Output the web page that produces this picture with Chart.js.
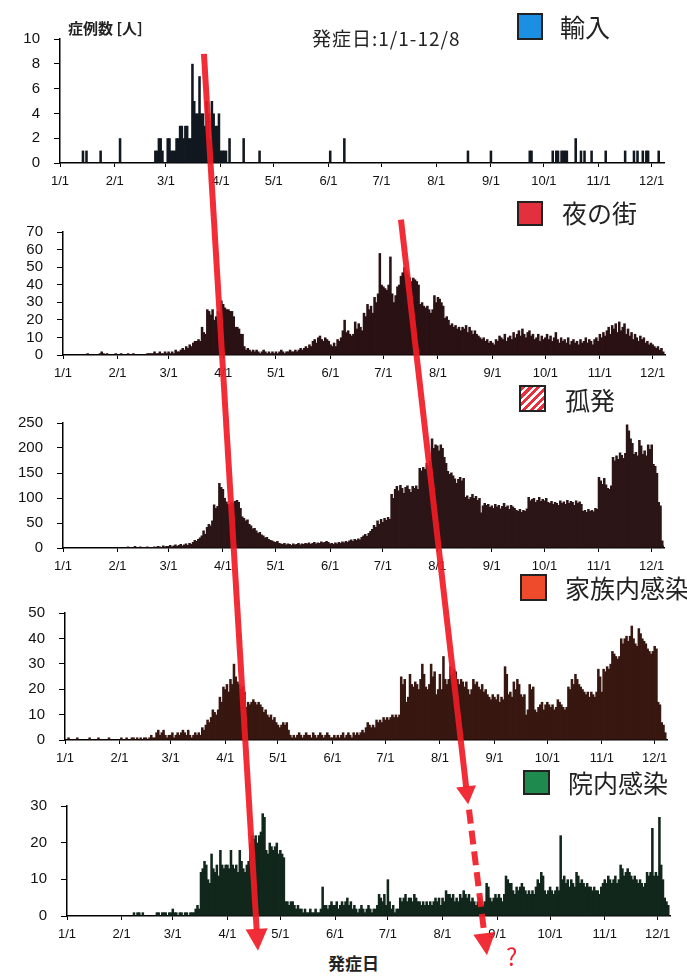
<!DOCTYPE html>
<html><head><meta charset="utf-8">
<script src="https://cdn.jsdelivr.net/npm/chart.js@4.4.1/dist/chart.umd.min.js"></script>
<style>
html,body{margin:0;padding:0;background:#fff;}
body{width:687px;height:978px;position:relative;overflow:hidden;font-family:"Noto Sans CJK JP","Noto Sans",sans-serif;}
.t{position:absolute;white-space:nowrap;line-height:1;color:#222;z-index:5;}
.sq{position:absolute;box-sizing:border-box;border:2px solid #222;z-index:5;}
#overlay{position:absolute;left:0;top:0;z-index:10;pointer-events:none;}
</style></head><body>

<div class="t" style="left:68px;top:20px;font-size:15px;font-weight:bold;">症例数 [人]</div>
<div class="t" style="left:312px;top:28px;font-size:19px;letter-spacing:1px;">発症日:1/1-12/8</div>

<div class="sq" style="left:517px;top:13px;width:26px;height:27px;background:#1b8fe2;"></div>
<div class="t" style="left:560px;top:14px;font-size:25px;">輸入</div>

<div class="sq" style="left:517px;top:201px;width:26px;height:25px;background:#e3303e;"></div>
<div class="t" style="left:562px;top:200px;font-size:25px;">夜の街</div>

<div class="sq" style="left:519px;top:385px;width:27px;height:27px;background:repeating-linear-gradient(135deg,#e8303a 0 3px,#fff 3px 5.5px);"></div>
<div class="t" style="left:565px;top:387px;font-size:25px;">孤発</div>

<div class="sq" style="left:520px;top:574px;width:27px;height:27px;background:#ee4a2c;"></div>
<div class="t" style="left:565px;top:575px;font-size:25px;">家族内感染</div>

<div class="sq" style="left:523px;top:770px;width:27px;height:25px;background:#1f8a4e;"></div>
<div class="t" style="left:568px;top:770px;font-size:25px;">院内感染</div>

<div class="t" style="left:328px;top:954px;font-size:17px;font-weight:bold;">発症日</div>
<div class="t" style="left:506px;top:944px;font-size:24px;color:#f0202c;">?</div>

<canvas id="overlay" width="687" height="978"></canvas>

<script>
// ---- categories: one per day, 1/1 .. 12/8 ----
const monthLengths = [31,29,31,30,31,30,31,31,30,31,30,8];
const dayLabels = [];
monthLengths.forEach((n, m) => { for (let d = 1; d <= n; d++) dayLabels.push((m + 1) + '/' + d); });

// ---- daily case counts by onset date ----
const importCases = [
 0,0,0,0,0,0,0,0,0,0, 0,0,0,1,0,1,0,0,0,0, 0,0,0,1,0,0,0,0,0,0, 0,
 0,0,0,2,0,0,0,0,0,0, 0,0,0,0,0,0,0,0,0,0, 0,0,0,1,1,2,2,1,0,
 0,2,2,1,1,1,2,2,3,3, 2,3,3,2,2,8,5,4,4,7, 4,4,3,5,4,2,5,4,3,3, 4,
 1,1,1,1,0,2,0,0,0,0, 0,0,0,2,0,0,0,0,0,0, 0,0,1,0,0,0,0,0,0,0,
 0,0,0,0,0,0,0,0,0,0, 0,0,0,0,0,0,0,0,0,0, 0,0,0,0,0,0,0,0,0,0, 0,
 0,1,0,0,0,0,0,0,0,2, 0,0,0,0,0,0,0,0,0,0, 0,0,0,0,0,0,0,0,0,0,
 0,0,0,0,0,0,0,0,0,0, 0,0,0,0,0,0,0,0,0,0, 0,0,0,0,0,0,0,0,0,0, 0,
 0,0,0,0,0,0,0,0,0,0, 0,0,0,0,0,0,0,0,1,0, 0,0,0,0,0,0,0,0,0,0, 0,
 1,0,0,0,0,0,0,0,0,0, 0,0,0,0,0,0,0,0,0,0, 0,0,1,1,0,0,0,0,0,0,
 0,0,0,0,0,1,0,1,1,0, 1,1,1,1,0,0,0,0,2,0, 0,1,0,1,0,0,0,1,0,0, 0,
 0,0,0,0,1,0,0,0,0,0, 0,0,0,0,0,1,0,0,0,0, 1,0,1,0,0,1,0,1,1,0,
 0,0,0,0,1,0,0,0
];
const nightlifeCases = [
 0,0,0,0,0,0,0,0,0,0, 0,0,0,0,1,0,0,0,0,0, 0,1,2,1,0,1,0,0,0,0, 1,
 0,0,1,0,0,0,1,0,0,1, 0,0,0,0,0,0,0,1,1,1, 1,2,1,1,2,1,1,2,1,
 2,1,2,1,3,2,2,3,4,3, 5,4,6,5,7,8,8,9,8,16, 13,12,26,25,23,26,20,22,25,24, 31,
 29,27,26,26,25,25,22,16,16,15, 12,12,5,3,4,3,2,3,2,3, 2,1,2,3,2,1,2,1,2,1,
 2,1,2,3,2,1,2,2,3,2, 2,3,2,3,4,3,4,5,4,6, 5,8,9,7,10,11,9,8,10,9, 8,
 6,5,7,5,9,8,10,14,20,13, 14,12,11,12,19,15,18,16,14,24, 22,29,26,28,24,33,30,35,58,40,
 39,38,37,40,56,35,30,34,39,40, 45,47,50,48,46,44,42,44,43,42, 40,29,30,28,27,28,26,24,26,34, 30,
 33,32,30,28,21,22,20,17,18,16, 17,15,16,14,16,15,17,13,16,14, 12,14,12,11,10,9,10,8,9,7, 8,
 7,6,9,8,11,10,9,12,8,10, 11,9,13,10,12,14,11,15,12,10, 13,14,11,12,9,10,12,8,11,9,
 10,12,9,11,8,10,13,9,7,10, 8,9,7,10,6,8,9,7,8,6, 9,7,8,10,7,9,8,6,9,10, 8,
 12,10,13,11,14,16,12,17,15,18, 13,19,14,16,18,12,15,11,13,9, 12,10,8,11,9,10,7,8,6,7,
 6,5,4,5,3,4,2,0
];
const sporadicCases = [
 0,0,1,0,0,0,0,0,0,0, 0,0,0,0,1,0,0,0,0,0, 0,0,1,0,0,0,0,1,0,0, 1,
 1,2,1,0,1,2,3,1,2,1, 4,2,1,3,2,1,2,3,2,1, 2,3,2,4,3,2,5,3,4,
 4,6,3,5,7,4,6,8,5,7, 9,6,10,8,12,16,14,18,21,25, 35,28,42,48,45,55,87,80,84,130, 122,
 118,100,93,88,86,92,90,94,96,92, 80,63,60,55,57,48,45,39,40,35, 30,32,27,25,21,22,18,16,15,13,
 12,14,10,9,8,10,7,9,8,6, 9,7,8,10,7,9,8,10,9,11, 8,10,12,9,11,10,13,11,12,14, 12,
 9,10,8,11,9,12,10,13,11,14, 12,15,17,14,18,16,19,17,22,25, 28,24,30,34,38,46,42,55,48,58,
 52,60,56,62,58,108,100,118,124,115, 126,120,110,122,125,118,112,124,120,125, 118,160,155,162,158,170,165,175,219,200, 207,
 205,195,207,200,182,170,154,148,151,145, 139,130,138,142,135,140,102,105,98,102, 108,100,104,96,100,71,85,90,86,88, 82,
 85,80,88,83,86,79,84,90,82,85, 78,86,83,80,76,74,78,72,76,74, 79,102,95,98,100,92,96,102,94,98,
 95,100,92,90,94,88,92,90,86,95, 90,93,88,96,90,94,92,86,95,90, 93,88,74,76,72,78,74,76,73,80, 78,
 142,135,128,140,127,120,118,125,182,175, 185,178,191,186,180,190,247,235,219,210, 188,192,185,216,205,188,195,185,207,198,
 207,168,164,150,92,85,15,5
];
const householdCases = [
 0,0,1,0,0,0,0,1,0,0, 0,0,0,0,1,0,0,0,0,1, 0,0,0,0,0,1,0,0,0,0, 0,
 0,1,0,0,1,0,0,1,1,0, 1,0,1,0,1,1,0,1,2,1, 1,3,4,2,3,4,2,1,2,
 2,3,1,2,3,2,3,4,3,2, 4,2,1,2,3,2,3,2,5,4, 6,8,7,9,12,11,10,12,17,15, 21,
 20,22,19,24,22,30,25,23,22,20, 21,19,13,15,14,15,16,15,14,15, 14,13,11,12,10,9,10,8,9,7,
 6,5,6,7,6,7,4,2,1,2, 1,2,3,2,1,2,3,2,2,1, 3,2,1,2,3,2,1,2,3,2, 1,
 1,2,1,2,1,2,3,1,2,3, 2,1,3,2,3,2,3,4,3,5, 7,6,5,6,5,8,7,8,7,9,
 8,9,8,9,10,9,10,9,10,25, 22,24,15,17,26,22,21,23,22,20, 24,30,26,21,20,22,30,25,27,18, 20,
 26,20,33,24,22,24,29,26,28,27, 24,22,24,23,21,23,20,18,20,24, 22,23,21,20,22,19,20,18,17,16, 18,
 17,16,18,15,17,16,29,26,18,19, 17,23,20,24,22,18,17,18,10,12, 22,20,21,12,11,13,14,15,12,14,
 15,14,13,14,12,13,16,15,14,13, 12,13,21,20,24,22,26,24,22,21, 20,19,18,19,17,19,18,17,19,28, 25,
 19,28,27,29,28,30,35,34,33,32, 33,40,38,40,41,39,41,45,40,38, 37,44,42,40,39,38,36,35,34,35,
 37,36,15,14,7,6,3,0
];
const hospitalCases = [
 0,0,0,0,0,0,0,0,0,0, 0,0,0,0,0,0,0,0,0,0, 0,0,0,0,0,0,0,0,0,0, 0,
 0,0,0,0,0,0,0,1,0,1, 1,0,1,0,0,0,0,0,0,0, 1,1,0,1,1,1,0,1,1,
 2,1,1,0,1,1,0,1,1,0, 1,1,1,2,3,2,12,13,15,14, 10,9,17,13,12,14,11,18,14,13, 14,
 14,13,18,14,13,14,12,18,15,13, 12,14,15,20,22,21,22,20,22,23, 28,27,18,17,20,19,18,19,20,17,
 18,17,16,4,4,3,4,4,3,2, 3,2,2,1,2,1,1,2,1,1, 2,1,1,2,8,3,3,2,3,4, 3,
 3,4,2,3,4,3,4,5,3,4, 2,3,2,1,2,3,2,1,2,3, 2,1,2,2,3,6,5,4,6,3,
 10,4,2,3,1,2,2,5,4,5, 6,4,5,5,4,6,5,4,4,3, 4,3,4,3,4,3,4,5,4,5, 3,
 5,4,7,6,6,5,6,4,5,4, 6,5,7,6,5,6,4,5,4,3, 4,5,4,3,4,9,8,5,4,5, 6,
 5,6,5,4,6,11,10,9,9,7, 6,8,7,8,9,8,7,6,7,6, 7,6,8,10,9,12,11,7,6,7,
 8,7,6,7,8,7,22,10,11,9, 10,8,10,9,8,12,11,9,10,9, 8,9,8,8,7,8,7,7,6,8, 9,
 10,9,11,10,9,10,11,9,10,14, 13,11,12,13,12,11,10,11,10,9, 10,9,8,9,12,11,12,24,11,12,
 11,27,14,10,5,4,3,0
];

// ---- y-axis ranges per panel ----
const yMaxes = [10, 70, 250, 50, 30];
const ySteps = [2, 10, 50, 10, 10];

// ---- panel layout (pixels) ----
const panels = [
  {values: importCases,    left:60, right:664, top:26,  bottom:163, color:'#111820'},
  {values: nightlifeCases, left:63, right:665, top:219, bottom:355, color:'#2a1113'},
  {values: sporadicCases,  left:63, right:664, top:410, bottom:548, color:'#2b1516'},
  {values: householdCases, left:65, right:667, top:600, bottom:740, color:'#381711'},
  {values: hospitalCases,  left:67, right:670, top:793, bottom:916, color:'#12271b'}
];
const PADTOP = 10, XH = 32;
const tickFont = {family:"'Liberation Sans', Arial, sans-serif", size:13};
const yFont = {family:"'Liberation Sans', Arial, sans-serif", size:15};

const charts = [];
const canvasTops = [];
panels.forEach((p, k) => {
  const cv = document.createElement('canvas');
  cv.width = 687;
  cv.height = p.bottom - p.top + PADTOP + XH;
  cv.style.position = 'absolute';
  cv.style.left = '0px';
  cv.style.top = (p.top - PADTOP) + 'px';
  cv.style.zIndex = '1';
  document.body.appendChild(cv);
  canvasTops.push(p.top - PADTOP);
  charts.push(new Chart(cv, {
    type: 'bar',
    data: {labels: dayLabels, datasets: [{data: p.values, backgroundColor: p.color, borderWidth: 0,
      barPercentage: 1.45, categoryPercentage: 1}]},
    options: {
      responsive: false, animation: false,
      layout: {padding: {top: PADTOP, left: 0, right: 687 - p.right, bottom: 0}},
      plugins: {legend: {display: false}, tooltip: {enabled: false}},
      scales: {
        x: {
          type: 'category', offset: false,
          grid: {display: true, drawOnChartArea: false, drawTicks: true, tickLength: 4, color: '#000', lineWidth: 1, offset: false},
          border: {display: true, color: '#000', width: 1.5},
          ticks: {autoSkip: false, maxRotation: 0, minRotation: 0, padding: 7, color: '#111', font: tickFont,
            callback: function (v) { const l = this.getLabelForValue(v); return l.endsWith('/1') ? l : null; }},
          afterFit: s => { s.height = XH; }
        },
        y: {
          min: 0, max: yMaxes[k],
          ticks: {stepSize: ySteps[k], autoSkip: false, padding: 14, color: '#111', font: yFont},
          grid: {display: true, drawOnChartArea: false, drawTicks: true, tickLength: 6, color: '#000'},
          border: {display: true, color: '#000', width: 1.5},
          afterFit: s => { s.width = p.left; }
        }
      }
    }
  }));
});

// ---- red annotation arrows, anchored to panel scales (panel, day index, value) ----
const arrowMain = {from: {panel: 0, day: 81.5, value: 8.8}, to: {panel: 4, day: 108.3, value: -9.5}};
const arrowSecond = {from: {panel: 1, day: 192, value: 77}, to: {panel: 4, day: 227.5, value: 30.5}};
const arrowDashed = {from: {panel: 4, day: 228, value: 29}, to: {panel: 4, day: 238.2, value: -10.7}};

function pt(r) {
  const c = charts[r.panel];
  return {x: c.scales.x.getPixelForValue(r.day), y: canvasTops[r.panel] + c.scales.y.getPixelForValue(r.value)};
}
const ov = document.getElementById('overlay');
const ctx = ov.getContext('2d');
ctx.strokeStyle = 'rgba(240,28,38,0.92)';
ctx.fillStyle = 'rgba(240,28,38,0.92)';
ctx.lineWidth = 6;
function drawArrow(a, len, hw, dash) {
  const s = pt(a.from), t = pt(a.to);
  const dx = t.x - s.x, dy = t.y - s.y, d = Math.hypot(dx, dy), ux = dx / d, uy = dy / d;
  const bx = t.x - ux * len, by = t.y - uy * len;
  ctx.setLineDash(dash || []);
  ctx.beginPath(); ctx.moveTo(s.x, s.y); ctx.lineTo(bx + ux * 1, by + uy * 1); ctx.stroke();
  ctx.setLineDash([]);
  ctx.beginPath();
  ctx.moveTo(t.x, t.y);
  ctx.lineTo(bx - uy * hw, by + ux * hw);
  ctx.lineTo(bx + uy * hw, by - ux * hw);
  ctx.closePath(); ctx.fill();
}
drawArrow(arrowMain, 22, 11);
drawArrow(arrowSecond, 18, 10);
drawArrow(arrowDashed, 22, 11, [14, 7]);
</script>
</body></html>
